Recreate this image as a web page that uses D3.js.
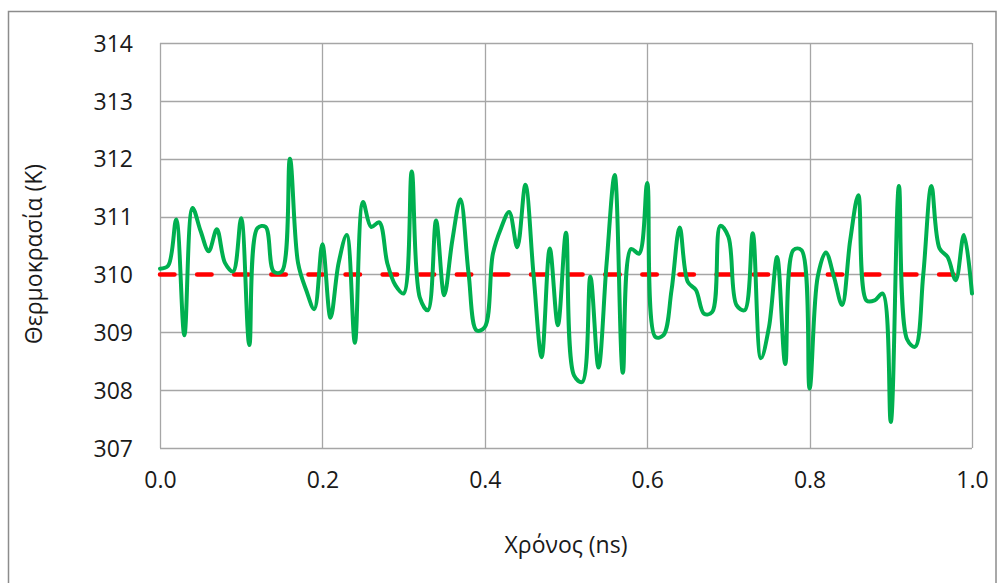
<!DOCTYPE html>
<html>
<head>
<meta charset="utf-8">
<script src="https://cdn.jsdelivr.net/npm/d3@7"></script>
<style>
  html, body { margin: 0; padding: 0; background: #fff; }
  svg { display: block; }
  text { font-family: "Open Sans", "DejaVu Sans", sans-serif; fill: #1a1a1a; }
</style>
</head>
<body>
<svg id="chart" width="999" height="583"></svg>
<script>
// Simulation time (ns), sampled every 0.01 ns
const times = d3.range(0, 101).map(i => +(i / 100).toFixed(2));

// Instantaneous temperature (K)
const temperature = [
  310.10, 310.15, 310.95, 308.95, 311.15, 310.75, 310.40, 310.78, 310.20, 310.05,
  310.97, 308.78, 310.80, 310.82, 310.05, 310.05, 312.00, 310.20, 309.73, 309.40,
  310.52, 309.25, 310.20, 310.68, 308.82, 311.25, 310.82, 310.90, 310.19, 309.81,
  309.67, 311.78, 309.60, 309.38, 310.93, 309.64, 310.59, 311.30, 310.02, 309.03,
  309.09, 310.36, 310.80, 311.08, 310.47, 311.55, 310.00, 308.57, 310.45, 309.12,
  310.72, 308.25, 308.14, 309.96, 308.39, 310.19, 311.72, 308.30, 310.44, 310.36,
  311.58, 308.92, 308.95, 309.73, 310.81, 309.87, 309.73, 309.32, 309.35, 310.84,
  310.65, 309.47, 309.38, 310.71, 308.55, 309.09, 310.30, 308.45, 310.42, 310.42,
  308.03, 309.96, 310.38, 309.96, 309.47, 310.59, 311.37, 309.55, 309.55, 309.67,
  307.45, 311.53, 308.88, 308.75, 310.00, 311.53, 310.45, 310.30, 309.90, 310.68,
  309.67
];

// Target (thermostat) temperature (K)
const target = times.map(() => 310);

// Axis ticks
const xTicks = [0, 0.2, 0.4, 0.6, 0.8, 1.0];
const yTicks = [307, 308, 309, 310, 311, 312, 313, 314];

const xLabel = "Χρόνος (ns)";
const yLabel = "Θερμοκρασία (K)";

const svg = d3.select("#chart");
const plot = { left: 160, top: 43, right: 972, bottom: 448 };

// Outer chart frame
svg.append("rect")
  .attr("x", 8.5).attr("y", 11.5)
  .attr("width", 987.5).attr("height", 600)
  .attr("fill", "#fff")
  .attr("stroke", "#8c8c8c")
  .attr("stroke-width", 1.5);

const x = d3.scaleLinear().domain([0, 1]).range([plot.left, plot.right]);
const y = d3.scaleLinear().domain([307, 314]).range([plot.bottom, plot.top]);

const gridColor = "#a6a6a6";

// Horizontal grid lines
svg.append("g")
  .selectAll("line")
  .data(yTicks)
  .join("line")
  .attr("x1", plot.left).attr("x2", plot.right)
  .attr("y1", d => Math.round(y(d)) + 0.5).attr("y2", d => Math.round(y(d)) + 0.5)
  .attr("stroke", gridColor).attr("stroke-width", 1.3);

// Vertical grid lines
svg.append("g")
  .selectAll("line")
  .data(xTicks)
  .join("line")
  .attr("x1", d => Math.round(x(d)) + 0.5).attr("x2", d => Math.round(x(d)) + 0.5)
  .attr("y1", plot.top).attr("y2", plot.bottom)
  .attr("stroke", gridColor).attr("stroke-width", 1.3);

// Y axis tick labels
const yAxis = d3.axisLeft(y).tickValues(yTicks).tickSize(0).tickPadding(27).tickFormat(d3.format("d"));
const gy = svg.append("g").attr("transform", `translate(${plot.left},0)`).call(yAxis);
gy.select(".domain").remove();
gy.selectAll("text")
  .style("font-family", '"Open Sans", sans-serif')
  .style("font-size", "23px")
  .attr("fill", "#1a1a1a")
  .attr("dy", "0.36em");

// X axis tick labels
const xAxis = d3.axisBottom(x).tickValues(xTicks).tickSize(0).tickPadding(24).tickFormat(d3.format(".1f"));
const gx = svg.append("g").attr("transform", `translate(0,${plot.bottom})`).call(xAxis);
gx.select(".domain").remove();
gx.selectAll("text")
  .style("font-family", '"Open Sans", sans-serif')
  .style("font-size", "23px")
  .attr("fill", "#1a1a1a");

// Series lines (smoothed)
const line = d3.line()
  .x((d, i) => x(times[i]))
  .y(d => y(d))
  .curve(d3.curveCatmullRom.alpha(0.5));

svg.append("path")
  .datum(target)
  .attr("d", line)
  .attr("fill", "none")
  .attr("stroke", "#ff0000")
  .attr("stroke-width", 4.5)
  .attr("stroke-linecap", "round")
  .attr("stroke-dasharray", "14.5,22.6");

svg.append("path")
  .datum(temperature)
  .attr("d", line)
  .attr("fill", "none")
  .attr("stroke", "#00b050")
  .attr("stroke-width", 4)
  .attr("stroke-linejoin", "round")
  .attr("stroke-linecap", "round");

// Axis titles
svg.append("text")
  .attr("x", (plot.left + plot.right) / 2)
  .attr("y", 553)
  .attr("text-anchor", "middle")
  .style("font-size", "23px")
  .text(xLabel);

svg.append("text")
  .attr("transform", `translate(42,254) rotate(-90)`)
  .attr("text-anchor", "middle")
  .style("font-size", "23px")
  .text(yLabel);
</script>
</body>
</html>
